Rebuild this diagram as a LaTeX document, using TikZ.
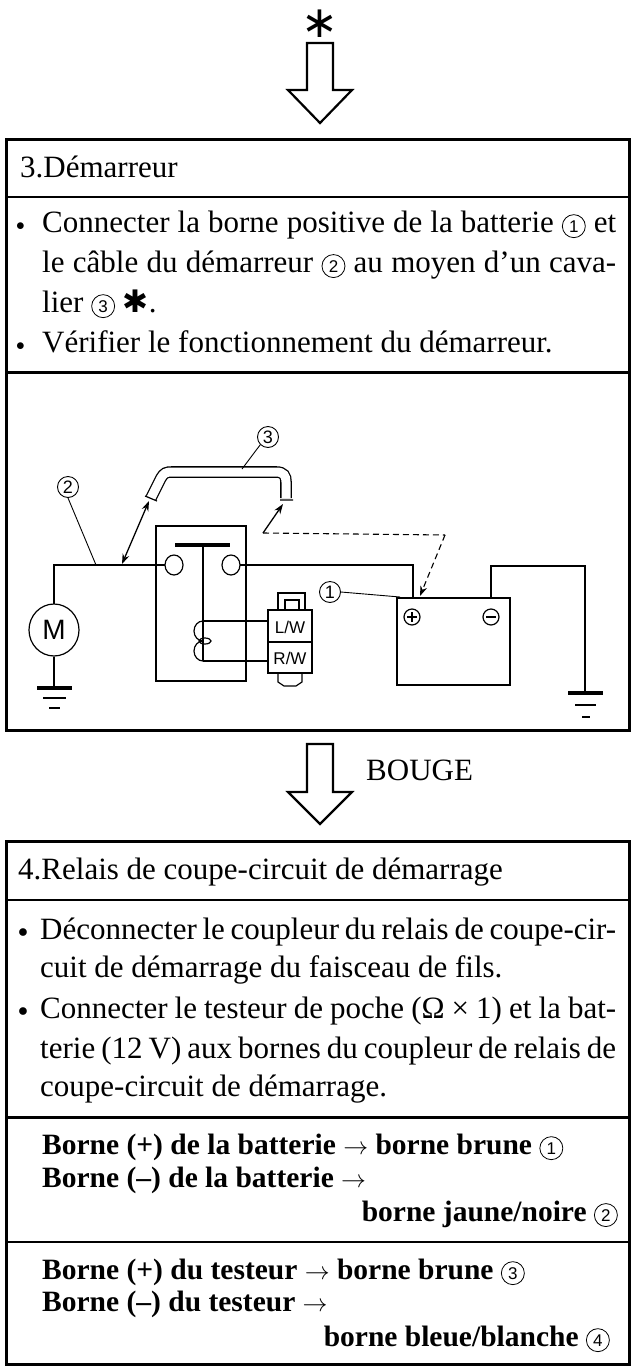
\documentclass[tikz,border=0pt]{standalone}
\usepackage{fontspec}
\setmainfont{Liberation Serif}
\newfontfamily\dejavu{DejaVu Sans}
\newfontfamily\lsans{Liberation Sans}
\usetikzlibrary{arrows.meta,shapes.geometric}
\newcommand{\cn}[1]{\tikz[baseline=(cc.base)]\node[circle,draw,line width=0.8pt,inner sep=0pt,minimum size=23pt,font=\lsans\fontsize{17}{17}\selectfont\mdseries] (cc) {#1};}
\newcommand{\astk}{{\dejavu ✱}}
\begin{document}
\begin{tikzpicture}[x=1pt,y=-1pt,
  frame/.style={line width=3pt},
  sep/.style={line width=2pt},
  wire/.style={line width=1.2pt},
  txtA/.style={anchor=base west,inner sep=0pt,font=\fontsize{31}{40}\selectfont},
  txtB/.style={anchor=base west,inner sep=0pt,font=\fontsize{31}{36}\selectfont},
  txtC/.style={anchor=base west,inner sep=0pt,font=\fontsize{29.5}{32}\selectfont\bfseries},
  bigarrow/.style={line width=2.2pt,fill=white,line join=miter},
  lbl/.style={circle,draw,line width=0.9pt,inner sep=1pt,minimum size=21pt,font=\lsans\fontsize{18}{18}\selectfont},
  tip/.style={-{Stealth[length=10pt,width=7pt]}}]
\useasboundingbox (0,0) rectangle (631,1368);
% top star and arrow
\node[inner sep=0pt,font=\dejavu\fontsize{44}{44}\selectfont] (star) at (320,24) {∗};
\draw[bigarrow] (307,43) -- (333,43) -- (333,90) -- (352,90) -- (320,123) -- (288,90) -- (307,90) -- cycle;
% box 1
\draw[frame] (6,139) rectangle (629,730);
\draw[sep] (6,197) -- (629,197);
\draw[frame] (6,372) -- (629,372);
\node[txtA] (h1) at (20,177) {3.Démarreur};
\node[txtA] (b1) at (16,232) {\raisebox{2pt}{\scalebox{0.7}{$\bullet$}}};
\node[txtA] (l1) at (42,232) {\makebox[574pt][s]{Connecter la borne positive de la batterie \cn{1} et}};
\node[txtA] (l2) at (42,272) {\makebox[574pt][s]{le câble du démarreur \cn{2} au moyen d’un cava-}};
\node[txtA] (l3) at (42,312) {lier \cn{3} \astk.};
\node[txtA] (b2) at (16,352) {\raisebox{2pt}{\scalebox{0.7}{$\bullet$}}};
\node[txtA] (l4) at (42,352) {Vérifier le fonctionnement du démarreur.};
% circuit
\draw[wire] (54,604) -- (54,565) coordinate (wl) -- (165,565);
\node[draw,wire,ellipse,minimum width=50pt,minimum height=52pt,inner sep=0pt,font=\lsans\fontsize{28}{28}\selectfont] (mot) at (54,630) {M};
\draw[wire] (mot.south) -- (54,688);
\draw[line width=4pt] (37,688) -- (72,688);
\draw[wire] (43,698) -- (66,698);
\draw[wire] (49,708) -- (60,708);
% relay
\draw[wire] (156,526) rectangle (246,681);
\draw[line width=4.5pt] (175,545) -- (230,545);
\draw[wire] (203,545) -- (203,661);
\draw[wire,fill=white] (174,565) ellipse (9pt and 10pt);
\draw[wire,fill=white] (231,565) ellipse (9pt and 10pt);
\draw[wire] (240,565) -- (413,565) -- (413,598);
\draw[wire] (203,621) -- (268,621);
\draw[wire] (203,661) -- (268,661);
\draw[wire] (203,621) arc (90:270:9pt and 10pt);
\draw[wire] (203,641) arc (90:270:9pt and 10pt);
\draw[wire] (205,641) ellipse (6pt and 3pt);
% connector
\draw[wire,fill=white] (278,610) -- (278,593) -- (305,593) -- (305,610);
\draw[wire] (285,610) -- (285,600) -- (299,600) -- (299,610);
\draw[wire,fill=white] (268,610) rectangle (312,673);
\draw[wire] (268,642) -- (312,642);
\draw[wire] (278,673) -- (278,682) -- (284,686) -- (296,686) -- (302,682) -- (302,673);
\node[inner sep=0pt,font=\lsans\fontsize{17}{17}\selectfont] (lw) at (290,627) {L/W};
\node[inner sep=0pt,font=\lsans\fontsize{17}{17}\selectfont] (rw) at (290,658) {R/W};
% battery
\draw[wire] (397,598) rectangle (510,685);
\draw[wire] (412,617) circle (8pt);
\draw[wire] (407,617) -- (417,617) (412,612) -- (412,622);
\draw[wire] (491,617) circle (8pt);
\draw[wire] (486,617) -- (496,617);
\draw[wire] (491,598) -- (491,566) -- (585,566) -- (585,693);
\draw[line width=4pt] (568,693) -- (603,693);
\draw[wire] (575,705) -- (596,705);
\draw[wire] (582,717) -- (590,717);
% jumper
\draw[line width=1.3pt,double=white,double distance=9pt]
  (151,498) -- (161,478) .. controls (164,473) and (166,472) .. (172,472) -- (276,472)
  .. controls (284,472) and (286,476) .. (286,482) -- (286,498);
\draw[wire] (145,496) -- (157,501) (280,500) -- (293,500);
\coordinate (jl) at (149,501);
\coordinate (jr) at (283,504);
% arrows
\coordinate (pa) at (122,564);
\draw[line width=1.3pt,{Stealth[length=10pt,width=7pt]}-{Stealth[length=10pt,width=7pt]}] (pa) -- (jl);
\coordinate (pd) at (263,533);
\draw[line width=1.3pt,tip] (pd) -- (jr);
\coordinate (pe) at (445,535);
\coordinate (pp) at (420,596);
\draw[line width=1.1pt,dash pattern=on 6pt off 4pt] (pd) -- (pe);
\draw[line width=1.1pt,dash pattern=on 6pt off 4pt,tip] (pe) -- (pp);
% labels
\node[lbl] (c2) at (68,487) {2};
\draw[line width=0.9pt] (c2.south) -- (96,565);
\node[lbl] (c3) at (268,437) {3};
\draw[line width=0.9pt] (c3.south west) -- (242,469);
\node[lbl] (c1) at (330,592) {1};
\draw[line width=0.9pt] (c1.east) -- (400,597);
% arrow 2
\draw[bigarrow] (307,744) -- (333,744) -- (333,792) -- (352,792) -- (320,824) -- (288,792) -- (307,792) -- cycle;
\node[anchor=base west,inner sep=0pt,font=\fontsize{31}{31}\selectfont] (bouge) at (366,780) {BOUGE};
% box 2
\draw[frame] (6,841) rectangle (629,1364);
\draw[sep] (6,900) -- (629,900);
\draw[frame] (6,1117) -- (629,1117);
\draw[sep] (6,1242) -- (629,1242);
\node[txtB] (h2) at (18,879) {4.Relais de coupe-circuit de démarrage};
\node[txtB] (b3) at (18,939) {\raisebox{2pt}{\scalebox{0.8}{$\bullet$}}};
\node[txtB] (m1) at (40,939) {\makebox[576pt][s]{Déconnecter le coupleur du relais de coupe-cir-}};
\node[txtB] (m2) at (40,977) {cuit de démarrage du faisceau de fils.};
\node[txtB] (b4) at (18,1018) {\raisebox{2pt}{\scalebox{0.8}{$\bullet$}}};
\node[txtB] (m3) at (40,1018) {\makebox[576pt][s]{Connecter le testeur de poche (Ω × 1) et la bat-}};
\node[txtB] (m4) at (40,1058) {\makebox[576pt][s]{terie (12 V) aux bornes du coupleur de relais de}};
\node[txtB] (m5) at (40,1096) {coupe-circuit de démarrage.};
\node[txtC] (n1) at (42,1154) {Borne (+) de la batterie $\rightarrow$ borne brune \cn{1}};
\node[txtC] (n2) at (42,1187) {Borne (–) de la batterie $\rightarrow$};
\node[txtC,anchor=base east] (n3) at (618,1221) {borne jaune/noire \cn{2}};
\node[txtC] (n4) at (42,1279) {Borne (+) du testeur $\rightarrow$ borne brune \cn{3}};
\node[txtC] (n5) at (42,1311) {Borne (–) du testeur $\rightarrow$};
\node[txtC,anchor=base east] (n6) at (610,1346) {borne bleue/blanche \cn{4}};
\end{tikzpicture}
\end{document}
